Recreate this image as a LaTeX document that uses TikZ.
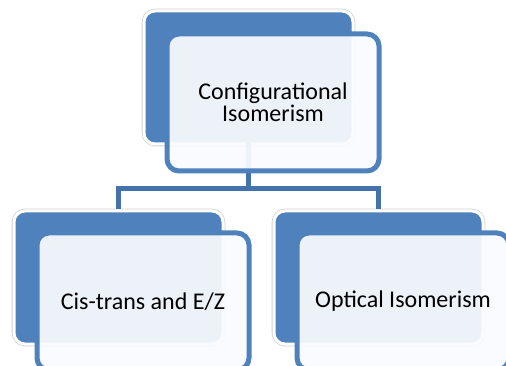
\documentclass[tikz,border=0pt]{standalone}
\usepackage{fontspec}
\setmainfont{Carlito}
\usepackage{tikz}
\usetikzlibrary{calc}
\definecolor{sablue}{RGB}{79,129,189}
\definecolor{salink}{RGB}{68,114,170}
\definecolor{safill}{RGB}{250,251,254}
\begin{document}
\begin{tikzpicture}[x=1pt,y=-1pt,
  back/.style={rectangle,rounded corners=11pt,fill=sablue,draw=white,line width=3pt,
    minimum width=209pt,minimum height=133pt,
    preaction={draw=black!18,line width=4.6pt}},
  front/.style={rectangle,rounded corners=12pt,draw=sablue,line width=5pt,
    fill=safill,fill opacity=0.93,text opacity=1,
    minimum width=212pt,minimum height=137pt,align=center,
    font=\fontsize{24}{22.5}\selectfont},
  link/.style={draw=salink,line width=5pt}]
  \useasboundingbox (0,0) rectangle (506,366);
  \begin{scope}
  \clip (0,0) rectangle (506,366);
  \node[back] (topb) at (248.5,77.5) {};
  \node[back] (cisb) at (118.5,277.5) {};
  \node[back] (optb) at (378.5,277.5) {};
  \coordinate (j) at (248.5,189);
  \path[link] (topb.center) -- (j) -| (cisb.north);
  \path[link] (j) -| (optb.north);
  \node[front] (topf) at (273,102.5) {Configurational\\Isomerism};
  \node[front] (cisf) at (143,301.5) {Cis-trans and E/Z};
  \node[front] (optf) at (403,301.5) {Optical Isomerism};
  \end{scope}
\end{tikzpicture}
\end{document}
